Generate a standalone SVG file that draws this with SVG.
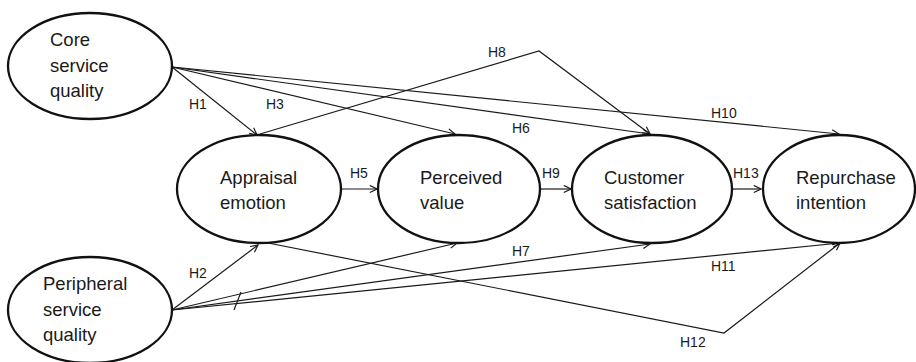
<svg xmlns="http://www.w3.org/2000/svg" width="916" height="362" viewBox="0 0 916 362">
<style>
.node ellipse{fill:#fff;stroke:#111;stroke-width:2.3}
.node text{font-family:"Liberation Sans",Arial,sans-serif;font-size:18.5px;fill:#1a1a1a}
.conn path{fill:none;stroke:#1a1a1a;stroke-width:1.2}
.lbl{font-family:"Liberation Sans",Arial,sans-serif;font-size:14px;fill:#1a1a1a}
</style>
<defs>
<marker id="arr" viewBox="0 0 10 10" refX="9" refY="5" markerWidth="9" markerHeight="9" markerUnits="userSpaceOnUse" orient="auto">
<path d="M1,1 L9,5 L1,9" fill="none" stroke="#1a1a1a" stroke-width="1.3"/>
</marker>
</defs>
<rect width="916" height="362" fill="#fff"/>
<g id="connectors" class="conn">
<path d="M172,67 L257,135" marker-end="url(#arr)"/>
<path d="M172,67 L455,134" marker-end="url(#arr)"/>
<path d="M172,67 L650,134" marker-end="url(#arr)"/>
<path d="M172,67 L839,134" marker-end="url(#arr)"/>
<path d="M260,134 L539,51 L650,134" marker-end="url(#arr)"/>
<path d="M341,189 L377,189" marker-end="url(#arr)"/>
<path d="M540,189 L571,189" marker-end="url(#arr)"/>
<path d="M732,189 L761,189" marker-end="url(#arr)"/>
<path d="M172,310 L258,245" marker-end="url(#arr)"/>
<path d="M172,310 L457,243" marker-end="url(#arr)"/>
<path d="M172,310 L650,244" marker-end="url(#arr)"/>
<path d="M172,310 L840,243" marker-end="url(#arr)"/>
<path d="M263,242 L724,333 L840,243" marker-end="url(#arr)"/>
<path d="M241,292 L234,310"/>
</g>
<g id="labels">
<text class="lbl" x="189" y="109">H1</text>
<text class="lbl" x="266" y="109">H3</text>
<text class="lbl" x="488" y="57">H8</text>
<text class="lbl" x="512" y="133">H6</text>
<text class="lbl" x="711" y="118">H10</text>
<text class="lbl" x="350" y="178">H5</text>
<text class="lbl" x="542" y="178">H9</text>
<text class="lbl" x="733" y="178">H13</text>
<text class="lbl" x="189" y="278">H2</text>
<text class="lbl" x="512" y="256">H7</text>
<text class="lbl" x="711" y="271">H11</text>
<text class="lbl" x="680" y="347">H12</text>
</g>
<g id="core" class="node">
<ellipse cx="90" cy="66" rx="82" ry="53"/>
<text x="50" y="46">Core</text>
<text x="50" y="72">service</text>
<text x="50" y="97">quality</text>
</g>
<g id="peripheral" class="node">
<ellipse cx="90" cy="310" rx="82" ry="53"/>
<text x="43" y="290">Peripheral</text>
<text x="43" y="316">service</text>
<text x="43" y="341">quality</text>
</g>
<g id="appraisal" class="node">
<ellipse cx="259" cy="189" rx="82" ry="54"/>
<text x="220" y="184">Appraisal</text>
<text x="220" y="209">emotion</text>
</g>
<g id="perceived" class="node">
<ellipse cx="459" cy="189" rx="81" ry="54"/>
<text x="420" y="184">Perceived</text>
<text x="420" y="209">value</text>
</g>
<g id="satisfaction" class="node">
<ellipse cx="652" cy="189" rx="80" ry="54"/>
<text x="604" y="184">Customer</text>
<text x="604" y="209">satisfaction</text>
</g>
<g id="repurchase" class="node">
<ellipse cx="839" cy="189" rx="76" ry="54"/>
<text x="796" y="184">Repurchase</text>
<text x="796" y="209">intention</text>
</g>
</svg>
